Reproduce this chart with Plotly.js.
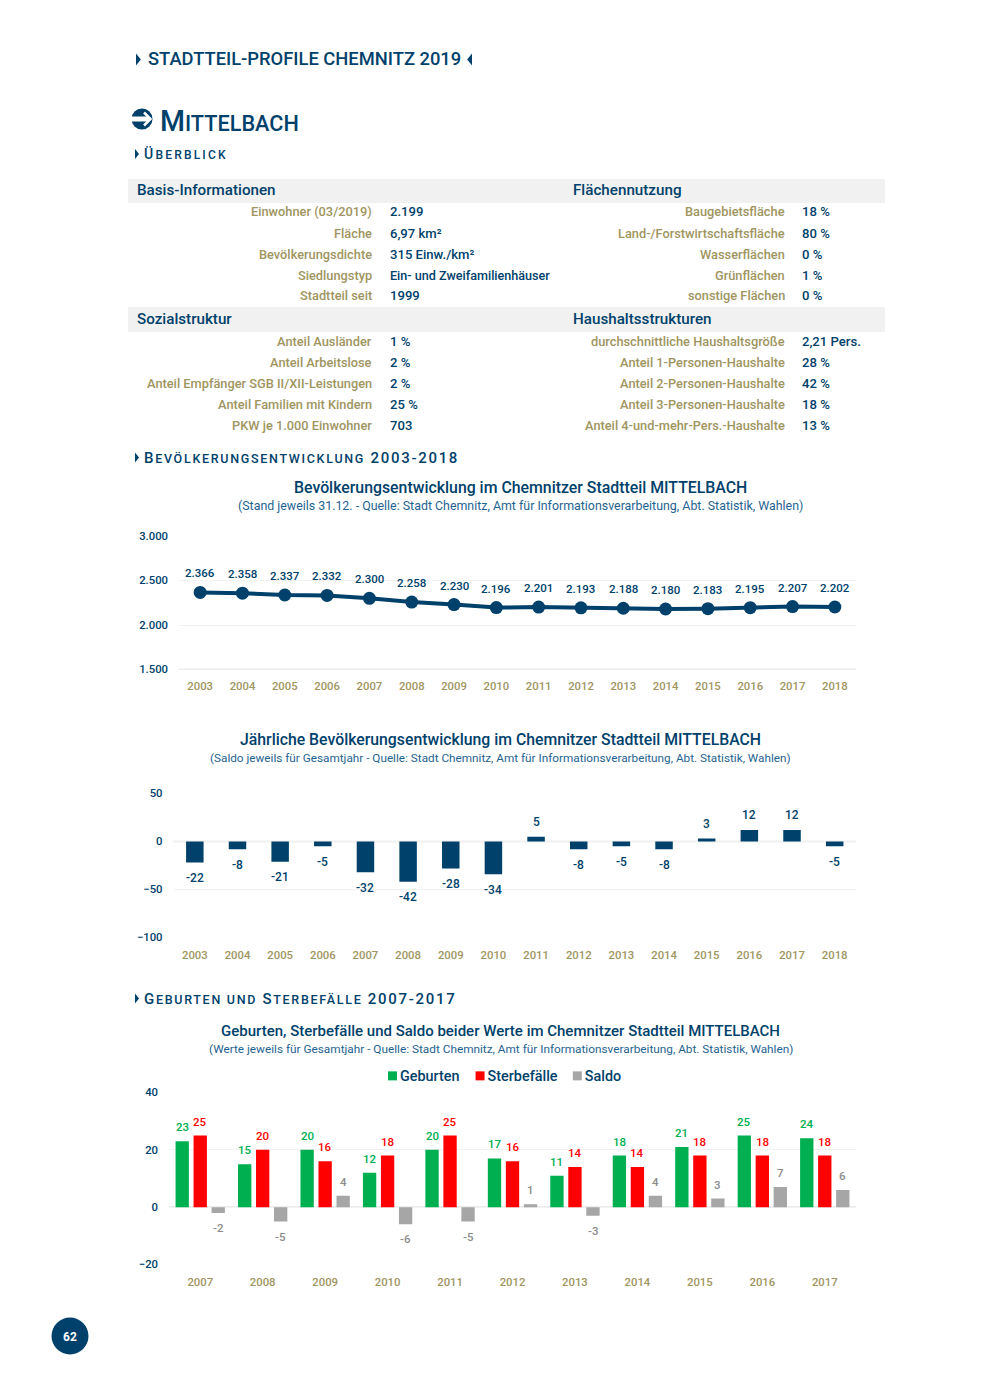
<!DOCTYPE html>
<html><head><meta charset="utf-8">
<script src="https://cdn.plot.ly/plotly-3.0.1.min.js"></script>
<style>html,body{margin:0;padding:0;background:#fff}</style></head>
<body><div id="chart" style="width:990px;height:1389px"></div>
<script>
const NAVY='#00416b', TAN='#a0955f', GREEN='#00b050', RED='#ff0000', GREY='#a6a6a6', FONT='Roboto, sans-serif';
const W=990,H=1389;
const popYears=['2003','2004','2005','2006','2007','2008','2009','2010','2011','2012','2013','2014','2015','2016','2017','2018'];
const popValues=[2366,2358,2337,2332,2300,2258,2230,2196,2201,2193,2188,2180,2183,2195,2207,2202];
const balanceValues=[-22,-8,-21,-5,-32,-42,-28,-34,5,-8,-5,-8,3,12,12,-5];
const vitalYears=['2007','2008','2009','2010','2011','2012','2013','2014','2015','2016','2017'];
const births=[23,15,20,12,20,17,11,18,21,25,24];
const deaths=[25,20,16,18,25,16,14,14,18,18,18];
const netChange=[-2,-5,4,-6,-5,1,-3,4,3,7,6];
const basisLabels=['Einwohner (03/2019)','Fläche','Bevölkerungsdichte','Siedlungstyp','Stadtteil seit'];
const basisValues=['2.199','6,97 km²','315 Einw./km²','Ein- und Zweifamilienhäuser','1999'];
const landLabels=['Baugebietsfläche','Land-/Forstwirtschaftsfläche','Wasserflächen','Grünflächen','sonstige Flächen'];
const landValues=['18 %','80 %','0 %','1 %','0 %'];
const socialLabels=['Anteil Ausländer','Anteil Arbeitslose','Anteil Empfänger SGB II/XII-Leistungen','Anteil Familien mit Kindern','PKW je 1.000 Einwohner'];
const socialValues=['1 %','2 %','2 %','25 %','703'];
const houseLabels=['durchschnittliche Haushaltsgröße','Anteil 1-Personen-Haushalte','Anteil 2-Personen-Haushalte','Anteil 3-Personen-Haushalte','Anteil 4-und-mehr-Pers.-Haushalte'];
const houseValues=['2,21 Pers.','28 %','42 %','18 %','13 %'];

const px=x=>x/W, py=y=>1-y/H;
const ann=[], shapes=[];
function T(x,y,text,size,color,anchor,weight){const a=anchor||'left';const dx=a==='left'?-1:a==='right'?1:0;ann.push({xref:'paper',yref:'paper',x:px(x+dx),y:py(y),text,showarrow:false,borderpad:0,xanchor:a,yanchor:'middle',font:{family:FONT,size,color,weight:weight||500}});}
function tri(x,y,dir,s){const d=dir*s*0.8;shapes.push({type:'path',xref:'paper',yref:'paper',line:{width:0},fillcolor:NAVY,
 path:`M${px(x)},${py(y-s)} L${px(x+d)},${py(y)} L${px(x)},${py(y+s)} Z`});}
function rect(x0,y0,x1,y1,c,layer){shapes.push({type:'rect',xref:'paper',yref:'paper',layer:layer||'below',x0:px(x0),x1:px(x1),y0:py(y1),y1:py(y0),fillcolor:c,line:{width:0}});}
function circ(cx,cy,r,c){shapes.push({type:'circle',xref:'paper',yref:'paper',x0:px(cx-r),x1:px(cx+r),y0:py(cy+r),y1:py(cy-r),fillcolor:c,line:{width:0}});}
const ls=(s,t)=>`<span style="letter-spacing:${s}px">${t}</span>`;

// page head
tri(136,59.5,1,6); T(148,59,'STADTTEIL-PROFILE CHEMNITZ 2019',18.35,NAVY); tri(472,59.5,-1,6);
circ(142,119,10.5,NAVY);
rect(130,116.5,149,121.5,'#fff','above');
shapes.push({type:'path',xref:'paper',yref:'paper',line:{width:2.5,color:'#fff'},path:`M${px(144)},${py(112.5)} L${px(150.5)},${py(119)} L${px(144)},${py(125.5)}`});
T(160,121,'M<span style="font-size:21.7px">ITTELBACH</span>',28.6,NAVY);
tri(135,154,1,5); T(144,154,ls(2.2,'Ü<span style="font-size:12px">BERBLICK</span>'),14,NAVY);

// table
rect(128,179,885,203,'#f1f1f1'); rect(128,307,885,332,'#f1f1f1');
T(137,190.5,'Basis-Informationen',15.2,NAVY); T(573,190.5,'Flächennutzung',15.2,NAVY);
T(137,319,'Sozialstruktur',15.2,NAVY); T(573,319,'Haushaltsstrukturen',15.2,NAVY);
function rows(labels,values,lx,vx,y0){labels.forEach((l,i)=>{const y=y0+i*21;T(lx,y,l,12.8,TAN,'right');T(vx,y,values[i],values[i].length>20?12.6:13.1,NAVY);});}
rows(basisLabels,basisValues,372,390,212);
rows(landLabels,landValues,785,802,212);
rows(socialLabels,socialValues,372,390,341);
rows(houseLabels,houseValues,785,802,341);

// section heads
tri(135,457.5,1,5); T(144,457.5,ls(1.7,'B<span style="font-size:12.5px">EVÖLKERUNGSENTWICKLUNG</span> 2003-2018'),15,NAVY);
tri(135,998.5,1,5); T(144,998.5,ls(1.7,'G<span style="font-size:12.5px">EBURTEN UND</span> S<span style="font-size:12.5px">TERBEFÄLLE</span> 2007-2017'),15,NAVY);

// chart titles
T(520,487.5,'Bevölkerungsentwicklung im Chemnitzer Stadtteil MITTELBACH',15.85,NAVY,'center');
T(520,505.5,'(Stand jeweils 31.12. - Quelle: Stadt Chemnitz, Amt für Informationsverarbeitung, Abt. Statistik, Wahlen)',12.4,'#1f6391','center',400);
T(500.5,740,'Jährliche Bevölkerungsentwicklung im Chemnitzer Stadtteil MITTELBACH',15.8,NAVY,'center');
T(500.5,757.5,'(Saldo jeweils für Gesamtjahr - Quelle: Stadt Chemnitz, Amt für Informationsverarbeitung, Abt. Statistik, Wahlen)',11.75,'#1f6391','center',400);
T(500.5,1031,'Geburten, Sterbefälle und Saldo beider Werte im Chemnitzer Stadtteil MITTELBACH',15,NAVY,'center');
T(500.5,1048.5,'(Werte jeweils für Gesamtjahr - Quelle: Stadt Chemnitz, Amt für Informationsverarbeitung, Abt. Statistik, Wahlen)',11.8,'#1f6391','center',400);

// page number
circ(70,1336,18.5,NAVY); T(70,1337,'<b>62</b>',12,'#fff','center');

// value labels placed through the data scales
const deLabel=v=>{const a=Math.abs(v).toLocaleString('de-DE');return (v<0?'-':'')+a;};
popYears.forEach((c,i)=>ann.push({xref:'x',yref:'y',x:i,y:popValues[i],text:deLabel(popValues[i]),showarrow:false,yshift:19,font:{family:FONT,size:11.5,color:NAVY,weight:500}}));
popYears.forEach((c,i)=>{const v=balanceValues[i];ann.push({xref:'x2',yref:'y2',x:i,y:v,text:deLabel(v),showarrow:false,yshift:v<0?-15.5:15,font:{family:FONT,size:12,color:NAVY,weight:500}});});
vitalYears.forEach((c,i)=>{
 [[births,GREEN,-18],[deaths,RED,0],[netChange,'#8c8c8c',18]].forEach(([arr,col,dx])=>{const v=arr[i];
  ann.push({xref:'x3',yref:'y3',x:i,y:v,text:deLabel(v),showarrow:false,xshift:dx,yshift:v<0?-15:14,font:{family:FONT,size:11.5,color:col,weight:500}});});
});

const tick=c=>({family:FONT,size:11.3,color:c,weight:500});
function xa(l,r,anchor,n,st){return {domain:[px(l),px(r)],anchor,type:'category',range:[-0.5,n-0.5],showgrid:false,zeroline:false,showline:false,ticks:'',tickfont:tick(TAN),fixedrange:true,ticklabelstandoff:st,tickmode:'linear',dtick:1};}
function ya(t,b,vt,vb,dtick,anchor){return {domain:[py(b),py(t)],anchor,range:[vb,vt],dtick,tick0:vb,showgrid:true,gridcolor:'#f2f2f2',gridwidth:1,zeroline:false,showline:false,ticks:'',tickfont:tick(NAVY),fixedrange:true,tickformat:',d',ticklabelstandoff:10};}

const data=[
 {type:'scatter',mode:'lines+markers',x:popYears,y:popValues,xaxis:'x',yaxis:'y',showlegend:false,hoverinfo:'skip',line:{color:NAVY,width:4},marker:{color:NAVY,size:13}},
 {type:'bar',x:popYears,y:balanceValues,xaxis:'x2',yaxis:'y2',showlegend:false,hoverinfo:'skip',marker:{color:NAVY},width:0.41},
 {type:'bar',name:'Geburten',x:vitalYears,y:births,xaxis:'x3',yaxis:'y3',marker:{color:GREEN},hoverinfo:'skip'},
 {type:'bar',name:'Sterbefälle',x:vitalYears,y:deaths,xaxis:'x3',yaxis:'y3',marker:{color:RED},hoverinfo:'skip'},
 {type:'bar',name:'Saldo',x:vitalYears,y:netChange,xaxis:'x3',yaxis:'y3',marker:{color:GREY},hoverinfo:'skip'}
];
// axis baselines drawn at the value-axis positions
shapes.push({type:'line',xref:'paper',yref:'y',x0:px(179),x1:px(856),y0:1500,y1:1500,line:{color:'#d9d9d9',width:1.5},layer:'below'});
shapes.push({type:'line',xref:'paper',yref:'y2',x0:px(173.5),x1:px(856),y0:0,y1:0,line:{color:'#d9d9d9',width:1.5},layer:'below'});
shapes.push({type:'line',xref:'paper',yref:'y3',x0:px(169),x1:px(856),y0:0,y1:0,line:{color:'#d9d9d9',width:1.5},layer:'below'});
const layout={width:W,height:H,margin:{l:0,r:0,t:0,b:0},paper_bgcolor:'#fff',plot_bgcolor:'rgba(0,0,0,0)',separators:',.',
 barmode:'group',bargap:0.135,bargroupgap:0.26,
 font:{family:FONT},
 legend:{orientation:'h',xref:'paper',yref:'paper',x:px(505),xanchor:'center',y:py(1076),yanchor:'middle',font:{family:FONT,size:14.4,color:NAVY,weight:500},bgcolor:'rgba(0,0,0,0)'},
 xaxis:xa(179,856,'y',16,8),yaxis:ya(536,669.5,3000,1500,500,'x'),
 xaxis2:xa(173.5,856,'y2',16,9),yaxis2:ya(793.5,937.5,50,-100,50,'x2'),
 xaxis3:xa(169,856,'y3',11,9),yaxis3:ya(1092.5,1264.5,40,-20,20,'x3'),
 annotations:ann,shapes:shapes};
const legendDx=[6,-11,-29];
Plotly.newPlot('chart',data,layout,{displayModeBar:false,staticPlot:true}).then(gd=>{
 // tighten the legend entries: smaller swatch, closer to its text
 gd.querySelectorAll('.legend .traces').forEach((g,i)=>{
  const m=/translate\(([-\d.]+)[ ,]+([-\d.]+)\)/.exec(g.getAttribute('transform')||'');
  if(m) g.setAttribute('transform',`translate(${+m[1]+legendDx[i]},${m[2]})`);
  g.querySelectorAll('.legendbar, .legendpoints path').forEach(p=>{p.setAttribute('d','M4.5,4.5H-4.5V-4.5H4.5Z');p.setAttribute('transform','translate(32.5,0)');});
 });
});
</script></body></html>
